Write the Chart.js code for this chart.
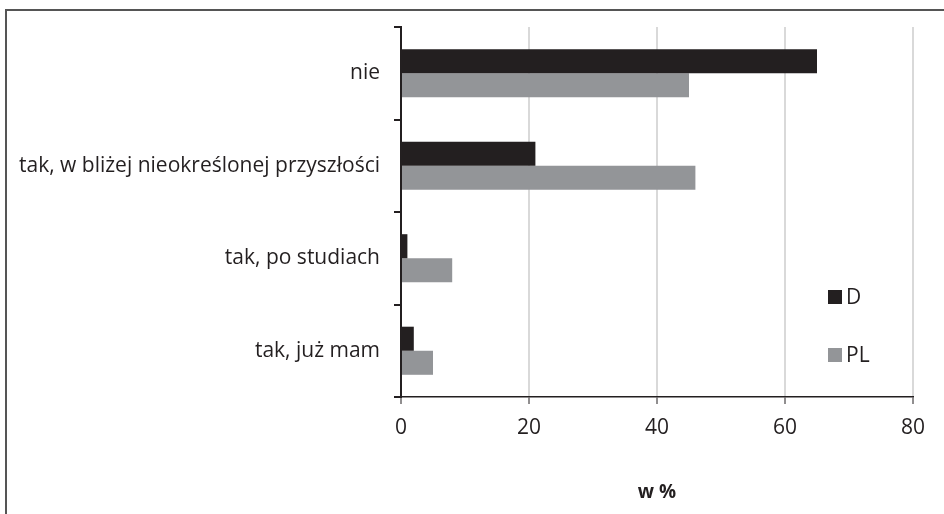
<!DOCTYPE html>
<html>
<head>
<meta charset="utf-8">
<script src="https://cdn.jsdelivr.net/npm/chart.js@4.4.1/dist/chart.umd.min.js"></script>
<style>
  html, body { margin: 0; padding: 0; background: #fff; }
  #wrap { position: relative; width: 944px; height: 514px; overflow: hidden; }
  #frame { position: absolute; left: 5px; top: 9px; width: 960px; height: 540px;
           border-top: 2px solid #555; border-left: 2px solid #555; box-sizing: border-box; }
  canvas { position: absolute; left: 0; top: 0; }
</style>
</head>
<body>
<div id="wrap">
  <div id="frame"></div>
  <canvas id="c" width="944" height="514"></canvas>
</div>
<script>
// Answer categories (top to bottom)
const categories = [
  'nie',
  'tak, w bliżej nieokreślonej przyszłości',
  'tak, po studiach',
  'tak, już mam'
];
// Shares in percent
const valuesD  = [65, 21, 1, 2];
const valuesPL = [45, 46, 8, 5];
const seriesNames = ['D', 'PL'];
const xTicks = [0, 20, 40, 60, 80];

const FONT = '"Open Sans", "Liberation Sans", sans-serif';
const INK = '#231f20';

// Legend drawn as a vertical key inside the plot, to the right
const keyPlugin = {
  id: 'sideKey',
  afterDraw(chart) {
    const ctx = chart.ctx;
    const rows = [297, 355];
    chart.data.datasets.forEach((ds, i) => {
      const y = rows[i];
      ctx.save();
      ctx.fillStyle = ds.backgroundColor;
      ctx.fillRect(828, y - 7, 14, 14);
      ctx.fillStyle = INK;
      ctx.font = '21px ' + FONT;
      ctx.textBaseline = 'middle';
      ctx.textAlign = 'left';
      ctx.fillText(ds.label, 846, y + 1);
      ctx.restore();
    });
  }
};

new Chart(document.getElementById('c'), {
  type: 'bar',
  data: {
    labels: categories,
    datasets: [
      { label: seriesNames[0], data: valuesD, backgroundColor: '#231f20' },
      { label: seriesNames[1], data: valuesPL, backgroundColor: '#939598' }
    ]
  },
  options: {
    indexAxis: 'y',
    responsive: false,
    animation: false,
    devicePixelRatio: 1,
    layout: { padding: { left: 0, top: 27, right: 31, bottom: 4 } },
    datasets: { bar: { categoryPercentage: 0.52, barPercentage: 1.0 } },
    plugins: { legend: { display: false }, tooltip: { enabled: false } },
    scales: {
      x: {
        min: 0, max: 80,
        afterBuildTicks(scale) { scale.ticks = xTicks.map(v => ({ value: v })); },
        afterFit(scale) { scale.height = 113; },
        grid: { color: '#d9d9d9', lineWidth: 2, tickColor: INK, tickLength: 7, tickWidth: 1 },
        border: { display: true, color: INK, width: 1.5 },
        ticks: { color: INK, font: { family: FONT, size: 21 }, padding: 11, maxRotation: 0 },
        title: { display: true, text: 'w %', color: INK,
                 font: { family: FONT, size: 19, weight: 'bold' }, padding: { top: 0, bottom: 6 } }
      },
      y: {
        afterFit(scale) { scale.width = 401; },
        grid: { offset: true, drawOnChartArea: false, color: INK, tickLength: 7, lineWidth: 2 },
        border: { display: true, color: INK, width: 2 },
        ticks: { color: INK, font: { family: FONT, size: 21 }, padding: 14 }
      }
    }
  },
  plugins: [keyPlugin]
});
</script>
</body>
</html>
